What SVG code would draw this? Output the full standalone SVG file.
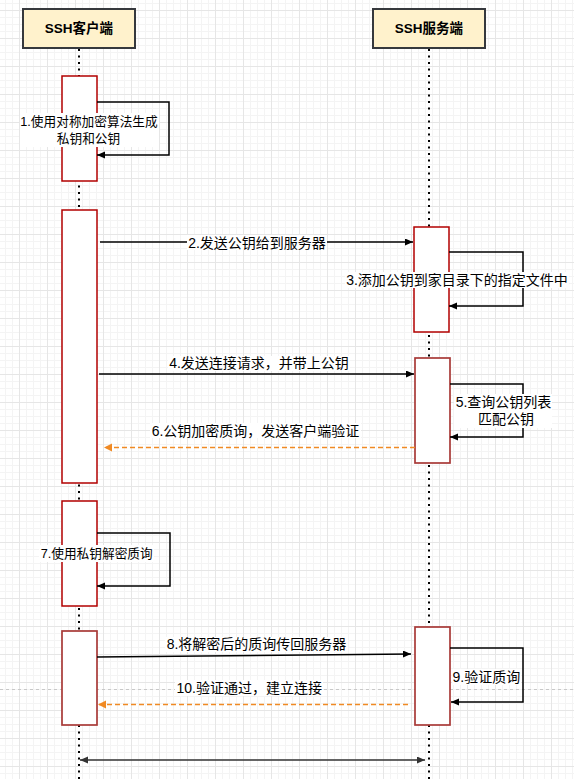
<svg xmlns="http://www.w3.org/2000/svg" width="574" height="779" viewBox="0 0 574 779">
<defs>
<style>
.hdr{fill:#fff2cc;stroke:#36393d;stroke-width:2}
.hdrt{font-family:"Liberation Sans","Noto Sans CJK SC",sans-serif;font-size:13.5px;font-weight:bold;fill:#000;text-anchor:middle}
.life{stroke:#000;stroke-width:2;stroke-dasharray:2 4.5;fill:none}
.act{fill:#fff;stroke:#b20000;stroke-width:1.5}
.act2{fill:#fff;stroke:#a83a38;stroke-width:1.7}
.msg{stroke:#000;stroke-width:1.3;fill:none}
.loop{stroke:#000;stroke-width:1.5;fill:none}
.ret{stroke:#f08a24;stroke-width:1.5;stroke-dasharray:5 3;fill:none}
.lbl{font-family:"Liberation Sans","Noto Sans CJK SC",sans-serif;font-size:14px;fill:#000;text-anchor:middle}
.sm{font-size:12.7px}
.bg{fill:#fff}
</style>
<pattern id="grid" patternUnits="userSpaceOnUse" x="19" y="10" width="28" height="28">
<rect x="0" y="0" width="28" height="28" fill="#fff"/>
<rect x="7" y="0" width="1" height="28" fill="#f4f4f4"/>
<rect x="14" y="0" width="1" height="28" fill="#f4f4f4"/>
<rect x="21" y="0" width="1" height="28" fill="#f4f4f4"/>
<rect x="0" y="7" width="28" height="1" fill="#f4f4f4"/>
<rect x="0" y="14" width="28" height="1" fill="#f4f4f4"/>
<rect x="0" y="21" width="28" height="1" fill="#f4f4f4"/>
<rect x="0" y="0" width="1" height="28" fill="#e6e6e6"/>
<rect x="0" y="0" width="28" height="1" fill="#e6e6e6"/>
</pattern>
<marker id="ah" markerUnits="userSpaceOnUse" markerWidth="10" markerHeight="10" refX="8" refY="3.5" orient="auto-start-reverse">
<path d="M0,0 L8,3.5 L0,7 Z" fill="#000"/>
</marker>
<marker id="ahg" markerUnits="userSpaceOnUse" markerWidth="10" markerHeight="10" refX="8" refY="3.5" orient="auto-start-reverse">
<path d="M0,0 L8,3.5 L0,7 Z" fill="#333"/>
</marker>
<marker id="aho" markerUnits="userSpaceOnUse" markerWidth="10" markerHeight="10" refX="8" refY="4" orient="auto">
<path d="M0,0 L8,4 L0,8 Z" fill="#f08a24"/>
</marker>
</defs>
<rect x="0" y="0" width="574" height="779" fill="url(#grid)"/>
<line x1="0" y1="689.5" x2="574" y2="689.5" stroke="#c8c8c8" stroke-width="1" stroke-dasharray="3 3"/>

<g id="client">
<line class="life" x1="79" y1="49" x2="79" y2="779"/>
<rect class="hdr" x="23" y="9" width="112" height="39"/>
<text class="hdrt" x="79" y="33">SSH客户端</text>
</g>
<g id="server">
<line class="life" x1="429" y1="49" x2="429" y2="779"/>
<rect class="hdr" x="373" y="9" width="112" height="39"/>
<text class="hdrt" x="429" y="33">SSH服务端</text>
</g>

<g id="c-act1"><rect class="act" x="62" y="76" width="35" height="105"/></g>
<g id="c-act2"><rect class="act" x="62" y="210" width="35" height="273"/></g>
<g id="c-act3"><rect class="act" x="62" y="501" width="35" height="105"/></g>
<g id="c-act4"><rect class="act2" x="62" y="631" width="35" height="94"/></g>
<g id="s-act1"><rect class="act" x="414" y="227" width="35" height="105"/></g>
<g id="s-act2"><rect class="act2" x="415" y="358" width="35" height="105"/></g>
<g id="s-act3"><rect class="act2" x="415" y="627" width="35" height="98"/></g>

<g id="connectors">
<path class="loop" d="M97,102 H169 V155 H97" marker-end="url(#ah)"/>
<path class="msg" d="M100,242 L413,242" marker-end="url(#ah)"/>
<path class="loop" d="M449,252 H523 V306 H449" marker-end="url(#ah)"/>
<path class="msg" d="M99,374 L414,374" marker-end="url(#ah)"/>
<path class="loop" d="M450,384 H523 V437 H450" marker-end="url(#ah)"/>
<path class="ret" d="M415,447.5 L104,447.5" marker-end="url(#aho)"/>
<path class="loop" d="M97,533 H170 V586 H97" marker-end="url(#ah)"/>
<path class="msg" d="M97,657 L411,654" marker-end="url(#ah)"/>
<path class="loop" d="M450,648 H523 V702 H451" marker-end="url(#ah)"/>
<path class="ret" d="M408,704.5 L98,704.5" marker-end="url(#aho)"/>
<path class="msg" d="M80,760 L425,760" style="stroke:#333" marker-start="url(#ahg)" marker-end="url(#ahg)"/>
</g>

<g id="labels">
<rect class="bg" x="20" y="113" width="139" height="34"/>
<text class="lbl sm" x="89" y="126.2">1.使用对称加密算法生成</text>
<text class="lbl sm" x="88.5" y="142.8">私钥和公钥</text>

<rect class="bg" x="187" y="235" width="140" height="15"/>
<text class="lbl" x="257" y="247.5">2.发送公钥给到服务器</text>

<rect class="bg" x="345" y="272" width="224" height="16"/>
<text class="lbl" x="457" y="285">3.添加公钥到家目录下的指定文件中</text>

<rect class="bg" x="168" y="356" width="182" height="15"/>
<text class="lbl" x="259" y="368.3">4.发送连接请求，并带上公钥</text>

<rect class="bg" x="454" y="394" width="98" height="34"/>
<text class="lbl" x="503.5" y="407.3">5.查询公钥列表</text>
<text class="lbl" x="506" y="424.3">匹配公钥</text>

<rect class="bg" x="150" y="423" width="211" height="15"/>
<text class="lbl" x="255.5" y="435.7">6.公钥加密质询，发送客户端验证</text>

<rect class="bg" x="39" y="545" width="115" height="17"/>
<text class="lbl sm" x="96.7" y="557.8">7.使用私钥解密质询</text>

<rect class="bg" x="165" y="637" width="183" height="15"/>
<text class="lbl" x="256.5" y="649.3">8.将解密后的质询传回服务器</text>

<rect class="bg" x="452" y="669" width="69" height="16"/>
<text class="lbl" x="486.3" y="681.7">9.验证质询</text>

<rect class="bg" x="175" y="680" width="148" height="16"/>
<text class="lbl" x="249.2" y="693">10.验证通过，建立连接</text>
</g>
</svg>
